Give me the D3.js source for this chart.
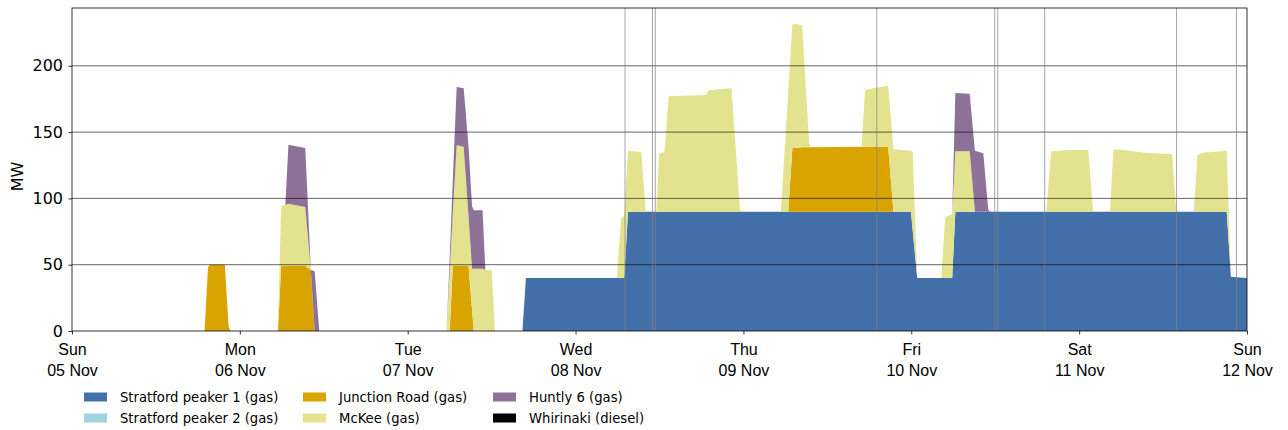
<!DOCTYPE html>
<html>
<head>
<meta charset="utf-8">
<script src="https://cdn.jsdelivr.net/npm/d3@7"></script>
<style>
  html, body { margin: 0; padding: 0; background: #fff; }
  svg { display: block; font-family: "DejaVu Sans", sans-serif; }
</style>
</head>
<body>
<svg id="chart" width="1288" height="430"></svg>
<script>
// ---- data (hours since Sun 05 Nov 00:00) ----
const hours = [
  0, 18.95, 19.45, 19.7, 21.85, 22.4, 22.65,
  29.45, 29.9, 30.5, 30.95, 33.35, 34.15, 34.7, 35.35,
  53.55, 54.0, 54.45, 55.0, 56.0, 56.7, 57.2, 57.45, 58.7, 59.1, 60.0, 60.5,
  64.4, 64.9, 77.9, 78.5, 78.95, 79.5, 81.4, 82.05,
  83.55, 83.95, 84.7, 85.3, 90.7, 91.0, 94.3, 95.5, 96.0,
  101.35, 102.4, 103.0, 103.3, 104.4, 105.4, 105.7, 112.9, 113.4, 116.7, 117.45,
  119.95, 120.2, 120.85, 124.3, 124.85, 125.85, 126.3, 128.35, 129.1, 130.3, 131.0, 131.3,
  139.3, 140.0, 142.5, 145.3, 146.0, 148.4, 148.9, 149.4, 153.4, 157.3, 157.9, 160.4, 160.9, 161.6, 165.1, 165.7, 168
];
const stratford1 = [
  0, 0, 0, 0, 0, 0, 0,
  0, 0, 0, 0, 0, 0, 0, 0,
  0, 0, 0, 0, 0, 0, 0, 0, 0, 0, 0, 0,
  0, 40, 40, 40, 40, 90, 90, 90,
  90, 90, 90, 90, 90, 90, 90, 90, 90,
  90, 90, 90, 90, 90, 90, 90, 90, 90, 90, 90,
  90, 76, 40, 40, 40, 40, 90, 90, 90, 90, 90, 90,
  90, 90, 90, 90, 90, 90, 90, 90, 90, 90, 90, 90, 90, 90, 90, 41, 40
];
const stratford2 = [
  0, 0, 0, 0, 0, 0, 0,
  0, 0, 0, 0, 0, 0, 0, 0,
  0, 0, 0, 0, 0, 0, 0, 0, 0, 0, 0, 0,
  0, 0, 0, 0, 0, 0, 0, 0,
  0, 0, 0, 0, 0, 0, 0, 0, 0,
  0, 0, 0, 0, 0, 0, 0, 0, 0, 0, 0,
  0, 0, 0, 0, 0, 0, 0, 0, 0, 0, 0, 0,
  0, 0, 0, 0, 0, 0, 0, 0, 0, 0, 0, 0, 0, 0, 0, 0, 0
];
const junctionRoad = [
  0, 0, 48, 50, 50, 3, 0,
  0, 49, 49, 49, 49, 46, 0, 0,
  0, 0, 49, 49, 49, 49, 16, 0, 0, 0, 0, 0,
  0, 0, 0, 0, 0, 0, 0, 0,
  0, 0, 0, 0, 0, 0, 0, 0, 0,
  0, 0, 48, 48, 48.5, 48.5, 48.5, 49, 49, 49, 0,
  0, 0, 0, 0, 0, 0, 0, 0, 0, 0, 0, 0,
  0, 0, 0, 0, 0, 0, 0, 0, 0, 0, 0, 0, 0, 0, 0, 0, 0
];
const mckee = [
  0, 0, 0, 0, 0, 0, 0,
  0, 45, 46, 47, 44.5, 0, 0, 0,
  0, 45, 40, 91, 90, 37, 31, 47, 47, 46, 46, 0,
  0, 0, 0, 45, 47, 46, 45, 0,
  0, 44, 45, 87, 88, 91.5, 93, 1.5, 0,
  0, 90, 93, 94, 92, 3, 0, 0, 43, 46, 47,
  46, 59, 0, 0, 46, 48, 45.5, 45.5, 0, 0, 0, 0,
  0, 45.5, 46.5, 46.5, 0, 0, 46.5, 47, 44.5, 43.5, 0, 0, 42.5, 44.5, 46, 0, 0
];
const huntly6 = [
  0, 0, 0, 0, 0, 0, 0,
  0, 0, 0, 44.5, 44.5, 0, 45, 0,
  0, 10, 25, 44, 44, 53, 47, 44, 44, 0, 0, 0,
  0, 0, 0, 0, 0, 0, 0, 0,
  0, 0, 0, 0, 0, 0, 0, 0, 0,
  0, 0, 0, 0, 0, 0, 0, 0, 0, 0, 0,
  0, 0, 0, 0, 0, 0, 44, 43.5, 46, 44, 1.5, 0,
  0, 0, 0, 0, 0, 0, 0, 0, 0, 0, 0, 0, 0, 0, 0, 0, 0
];
const whirinaki = [
  0, 0, 0, 0, 0, 0, 0,
  0, 0, 0, 0, 0, 0, 0, 0,
  0, 0, 0, 0, 0, 0, 0, 0, 0, 0, 0, 0,
  0, 0, 0, 0, 0, 0, 0, 0,
  0, 0, 0, 0, 0, 0, 0, 0, 0,
  0, 0, 0, 0, 0, 0, 0, 0, 0, 0, 0,
  0, 0, 0, 0, 0, 0, 0, 0, 0, 0, 0, 0,
  0, 0, 0, 0, 0, 0, 0, 0, 0, 0, 0, 0, 0, 0, 0, 0, 0
];
const seriesNames = ["Stratford peaker 1 (gas)", "Stratford peaker 2 (gas)", "Junction Road (gas)",
                     "McKee (gas)", "Huntly 6 (gas)", "Whirinaki (diesel)"];
const seriesValues = [stratford1, stratford2, junctionRoad, mckee, huntly6, whirinaki];
const seriesColors = ["#4470a9", "#9dd4e0", "#d9a400", "#e3e38f", "#8e7199", "#000000"];
const eventHours = [79.07, 83.0, 83.4, 115.07, 131.93, 132.36, 139.07, 157.93, 166.5];
const yTicks = [0, 50, 100, 150, 200];
const yMax = 243.6;
const startDate = new Date(2023, 10, 5);
const dayTicks = d3.range(0, 8).map(d => new Date(2023, 10, 5 + d));

seriesValues.forEach((s, i) => {
  if (s.length !== hours.length) throw new Error("length mismatch in series " + i + ": " + s.length + " vs " + hours.length);
});

// ---- layout ----
const svg = d3.select("#chart");
const L = 72, R = 1247, T = 8, B = 331;
const toDate = h => new Date(startDate.getTime() + h * 3600 * 1000);

const x = d3.scaleTime().domain([startDate, toDate(168)]).range([L, R]);
const y = d3.scaleLinear().domain([0, yMax]).range([B, T]);

const rows = hours.map((h, i) => {
  const r = { date: toDate(h) };
  seriesNames.forEach((n, k) => r[n] = seriesValues[k][i]);
  return r;
});
const stacked = d3.stack().keys(seriesNames)(rows);

const area = d3.area()
  .x(d => x(d.data.date))
  .y0(d => y(d[0]))
  .y1(d => y(d[1]));

svg.append("g").selectAll("path")
  .data(stacked)
  .join("path")
  .attr("d", area)
  .attr("fill", (d, i) => seriesColors[i]);

// horizontal grid
svg.append("g").selectAll("line")
  .data(yTicks.filter(v => v > 0))
  .join("line")
  .attr("x1", L).attr("x2", R)
  .attr("y1", d => y(d)).attr("y2", d => y(d))
  .attr("stroke", "#000").attr("stroke-opacity", 0.6).attr("stroke-width", 1);

// event lines
svg.append("g").selectAll("line")
  .data(eventHours)
  .join("line")
  .attr("x1", d => x(toDate(d))).attr("x2", d => x(toDate(d)))
  .attr("y1", T).attr("y2", B)
  .attr("stroke", "#808080").attr("stroke-opacity", 0.7).attr("stroke-width", 1);

// axes
const fmtDay = d3.timeFormat("%a");
const fmtDate = d3.timeFormat("%d %b");
const xAxis = svg.append("g").attr("transform", `translate(0,${B})`)
  .call(d3.axisBottom(x).tickValues(dayTicks).tickSize(3.5).tickPadding(3.5).tickFormat(""));
xAxis.select(".domain").remove();
xAxis.selectAll(".tick line").attr("stroke", "#000").attr("stroke-width", 0.8);
xAxis.selectAll(".tick").append("text")
  .attr("fill", "#000").attr("text-anchor", "middle")
  .style("font-size", "16px")
  .each(function(d) {
    const t = d3.select(this);
    t.append("tspan").attr("x", 0).attr("y", 24).text(fmtDay(d));
    t.append("tspan").attr("x", 0).attr("y", 45).text(fmtDate(d));
  });

const yAxis = svg.append("g").attr("transform", `translate(${L},0)`)
  .call(d3.axisLeft(y).tickValues(yTicks).tickSize(3.5).tickPadding(5.5));
yAxis.select(".domain").remove();
yAxis.selectAll(".tick line").attr("stroke", "#000").attr("stroke-width", 0.8);
yAxis.selectAll(".tick text").attr("fill", "#000").style("font-size", "16px").style("font-family", "DejaVu Sans");

// frame
svg.append("rect").attr("x", L).attr("y", T).attr("width", R - L).attr("height", B - T)
  .attr("fill", "none").attr("stroke", "#000").attr("stroke-width", 0.8);

svg.append("text")
  .attr("transform", `translate(18,${(T + B) / 2 + 7}) rotate(-90)`)
  .attr("text-anchor", "middle").attr("dominant-baseline", "middle")
  .style("font-size", "16px").text("MW");

// legend (3 columns, column-major)
const legCols = [84, 303, 493];
const legRows = [397, 418];
const leg = svg.append("g").selectAll("g")
  .data(seriesNames)
  .join("g")
  .attr("transform", (d, i) => `translate(${legCols[Math.floor(i / 2)]},${legRows[i % 2]})`);
leg.append("rect").attr("x", 0).attr("y", -4.5).attr("width", 23).attr("height", 9)
  .attr("fill", (d, i) => seriesColors[i]);
leg.append("text").attr("x", 36).attr("y", 0).attr("dominant-baseline", "central")
  .style("font-size", "13.2px").text(d => d);
</script>
</body>
</html>
